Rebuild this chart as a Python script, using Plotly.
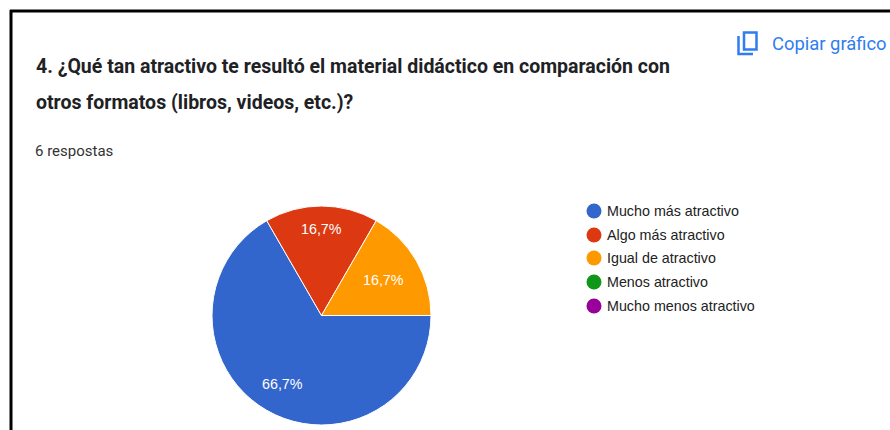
import math
import plotly.graph_objects as go

# Survey results for question 4
categories = ["Mucho más atractivo", "Algo más atractivo", "Igual de atractivo",
              "Menos atractivo", "Mucho menos atractivo"]
responses = [4, 1, 1, 0, 0]
colors = ["#3366cc", "#dc3912", "#ff9900", "#109618", "#990099"]

title_lines = ["4. ¿Qué tan atractivo te resultó el material didáctico en comparación con",
               "otros formatos (libros, videos, etc.)?"]
response_count = "6 respostas"
copy_label = "Copiar gráfico"
link_blue = "#2f7df0"

W, H = 890, 430
CX, CY, R = 321.5, 315.5, 109.5
START_ANGLE = 90  # first slice begins at 3 o'clock
label_radius = [79, 87, 72]  # distance of each percentage from the pie centre

fig = go.Figure()

fig.add_trace(go.Pie(
    labels=categories, values=responses, sort=False, direction="clockwise", rotation=START_ANGLE,
    marker=dict(colors=colors, line=dict(color="white", width=1)),
    textinfo="none",
    domain=dict(x=[(CX - R) / W, (CX + R) / W], y=[1 - (CY + R) / H, 1 - (CY - R) / H]),
    showlegend=False, hoverinfo="label+percent",
))

# Legend entries with round swatches, placed on a pixel-scaled overlay
legend_y = [211, 235, 258, 282, 306]
fig.add_trace(go.Scatter(
    x=[594] * len(categories), y=legend_y, mode="markers",
    marker=dict(size=15, color=colors, line=dict(width=0)),
    showlegend=False, hoverinfo="skip",
))

annotations = []

# Percentage labels sit on each slice's mid-angle
total = sum(responses)
angle = START_ANGLE
for value, radius in zip(responses, label_radius):
    sweep = 360 * value / total
    mid = math.radians(angle + sweep / 2)
    annotations.append(dict(
        x=CX + radius * math.sin(mid), y=CY - radius * math.cos(mid),
        text=f"{100 * value / total:.1f}%".replace(".", ","),
        xanchor="center", yanchor="middle",
        font=dict(family="Liberation Sans", size=14.3, color="white"),
    ))
    angle += sweep

for label, y in zip(categories, legend_y):
    annotations.append(dict(x=606, y=y, text=label, xanchor="left", yanchor="middle",
                            font=dict(family="Liberation Sans", size=14.3, color="#222222")))
for line, y in zip(title_lines, [66, 102]):
    annotations.append(dict(x=35, y=y, text=f"<b>{line}</b>", xanchor="left", yanchor="middle",
                            font=dict(family="Roboto", size=19.5, color="#202124")))
annotations.append(dict(x=34, y=151, text=response_count, xanchor="left", yanchor="middle",
                        font=dict(family="Roboto", size=15, color="#333333")))
annotations.append(dict(x=771, y=43, text=copy_label, xanchor="left", yanchor="middle",
                        font=dict(family="Roboto", size=18.4, color=link_blue)))
for a in annotations:
    a.update(xref="x", yref="y", showarrow=False, borderpad=0)

shapes = [
    # Card border along the top and left edges
    dict(type="line", x0=10, y0=11, x1=890, y1=11, line=dict(color="black", width=3)),
    dict(type="line", x0=11, y0=10, x1=11, y1=430, line=dict(color="black", width=3)),
    # Copy icon
    dict(type="rect", x0=744, y0=32.5, x1=756.5, y1=49.5, line=dict(color=link_blue, width=2.5)),
    dict(type="path", path="M 738.5 36 L 738.5 54 L 753 54", line=dict(color=link_blue, width=2.5)),
]

fig.update_layout(
    width=W, height=H, margin=dict(l=0, r=0, t=0, b=0),
    paper_bgcolor="white", plot_bgcolor="rgba(0,0,0,0)",
    xaxis=dict(range=[0, W], visible=False, fixedrange=True),
    yaxis=dict(range=[H, 0], visible=False, fixedrange=True),
    annotations=annotations, shapes=shapes,
)
fig.write_html("out.html")
